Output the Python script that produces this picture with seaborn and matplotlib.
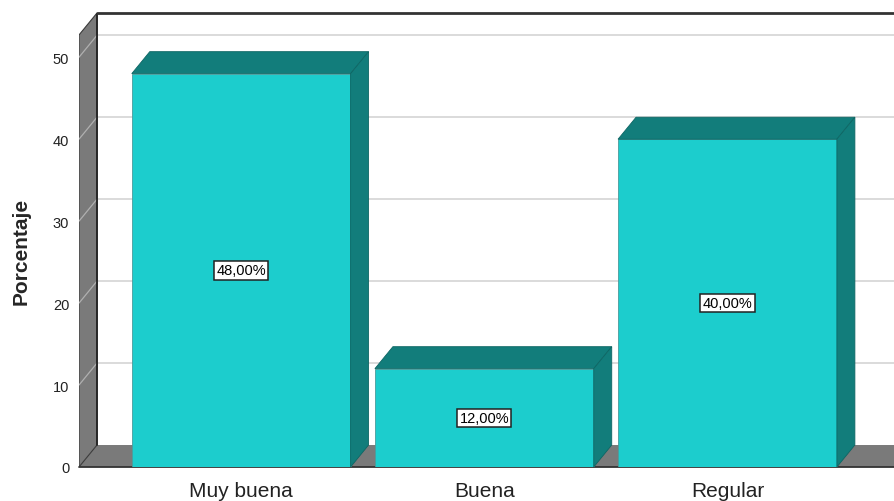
import matplotlib
matplotlib.use("Agg")
import matplotlib.pyplot as plt
from matplotlib.patches import Polygon
import seaborn as sns
import pandas as pd

categories = ["Muy buena", "Buena", "Regular"]
percentages = [48.0, 12.0, 40.0]
ytick_values = [0, 10, 20, 30, 40, 50]
bar_labels = ["48,00%", "12,00%", "40,00%"]

front_color = "#1ccdcd"
shade_color = "#127d7b"
wall_color = "#7a7a7a"
grid_color = "#d4d4d4"

sns.set_theme(style="white")
plt.rcParams["font.family"] = ["Liberation Sans", "DejaVu Sans"]

W, H = 895, 502
fig = plt.figure(figsize=(W / 100, H / 100), dpi=100)
ax = fig.add_axes([79 / W, (H - 468) / H, (W - 79) / W, (468 - 14) / H])

df = pd.DataFrame({"categoria": categories, "porcentaje": percentages})
sns.barplot(data=df, x="categoria", y="porcentaje", color=front_color,
            saturation=1, width=0.9, edgecolor="#4a9c9c", linewidth=0.6,
            ax=ax, zorder=5)

x_left, x_right = -0.667, 2.689
y_top = 55.4
ax.set_xlim(x_left, x_right)
ax.set_ylim(0, y_top)

# depth of the pseudo-3D box, in data units
DX = 18 / 243.2
DY = 22 / 8.2

# back-wall grid lines
for v in ytick_values[1:]:
    ax.plot([x_left + DX, x_right + 0.2], [v + DY, v + DY], color=grid_color,
            lw=1.2, zorder=1, clip_on=False)

# floor and left wall
floor = Polygon([(x_left, 0), (x_left + DX, DY), (x_right + 0.2, DY),
                 (x_right + 0.2 - DX, 0)], closed=True, facecolor=wall_color,
                edgecolor="none", zorder=2)
ax.add_patch(floor)
wall = Polygon([(x_left, 0), (x_left + DX, DY), (x_left + DX, y_top),
                (x_left, y_top - DY)], closed=True, facecolor=wall_color,
               edgecolor="#3a3a3a", lw=0.8, zorder=2)
ax.add_patch(wall)
for v in ytick_values[1:]:
    ax.plot([x_left, x_left + DX], [v, v + DY], color="#b0b0b0", lw=0.9,
            zorder=3)

# back wall outline
ax.plot([x_left + DX, x_left + DX], [DY, y_top], color="#222222", lw=1.3,
        zorder=3)
ax.plot([x_left + DX, x_right + 0.2], [y_top, y_top], color="#333333", lw=2,
        zorder=3, clip_on=False)
ax.plot([x_left, x_right], [0, 0], color="#333333", lw=1.3, zorder=3,
        clip_on=False)

# top and side faces of every bar
for bar, val, lab in zip(ax.patches, percentages, bar_labels):
    x0 = bar.get_x()
    x1 = x0 + bar.get_width()
    h = bar.get_height()
    top = Polygon([(x0, h), (x0 + DX, h + DY), (x1 + DX, h + DY), (x1, h)],
                  closed=True, facecolor=shade_color, edgecolor="#0e6664",
                  lw=0.6, zorder=6)
    side = Polygon([(x1, 0), (x1 + DX, DY), (x1 + DX, h + DY), (x1, h)],
                   closed=True, facecolor=shade_color, edgecolor="#0e6664",
                   lw=0.6, zorder=6)
    ax.add_patch(top)
    ax.add_patch(side)
    ax.text(x0 + bar.get_width() / 2, val / 2, lab, ha="center", va="center",
            fontsize=10.5, color="black", zorder=8,
            bbox=dict(boxstyle="square,pad=0.15", facecolor="white",
                      edgecolor="#222222", lw=1.1))

for s in ax.spines.values():
    s.set_visible(False)

ax.set_yticks(ytick_values)
ax.set_yticklabels([str(v) for v in ytick_values], fontsize=10.5,
                   color="#222222")
ax.tick_params(axis="y", length=0, pad=7)
ax.tick_params(axis="x", length=0, pad=10, labelsize=15, labelcolor="#222222")
ax.set_xlabel("")
ax.set_ylabel("Porcentaje", fontsize=15, fontweight="bold")
ax.yaxis.set_label_coords(-0.059, 0.478)
ax.grid(False)

fig.savefig("out.png", dpi=100)
